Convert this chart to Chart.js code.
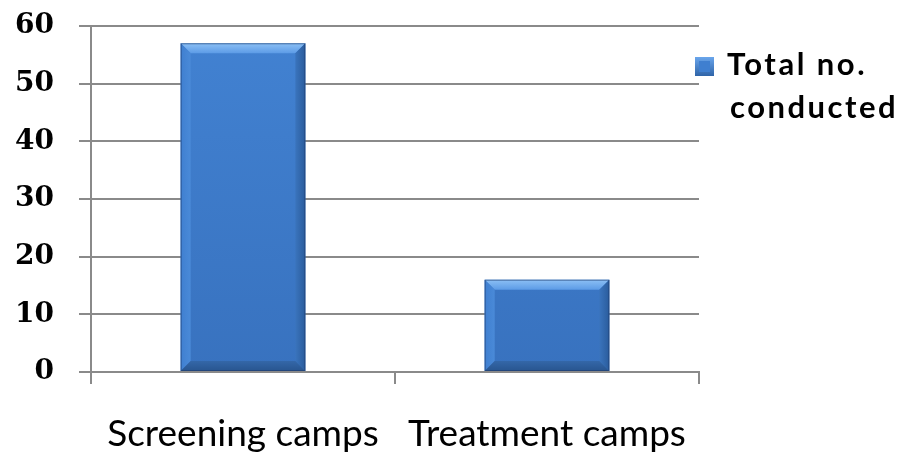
<!DOCTYPE html>
<html><head><meta charset="utf-8">
<script src="https://cdn.jsdelivr.net/npm/chart.js@4/dist/chart.umd.min.js"></script>
<style>html,body{margin:0;padding:0;background:#fff}#wrap{width:909px;height:461px}</style>
</head><body><div id="wrap"><canvas id="c" width="909" height="461"></canvas></div>
<script>
const categories = ["Screening camps", "Treatment camps"];
const seriesName = ["Total no.", "conducted"];
const totalConducted = [57, 16];
const yTicks = [0, 10, 20, 30, 40, 50, 60];

const bevelPlugin = {
  id: 'bevel',
  afterDatasetsDraw(chart) {
    const ctx = chart.ctx;
    chart.getDatasetMeta(0).data.forEach(el => {
      const w = el.width, l = el.x - w/2, r = el.x + w/2, t = el.y, b = el.base;
      const d = 10;
      ctx.save();
      let g = ctx.createLinearGradient(0, t, 0, t + d);
      g.addColorStop(0, '#8cc0f5'); g.addColorStop(1, '#5c9be6');
      ctx.fillStyle = g;
      ctx.beginPath(); ctx.moveTo(l, t); ctx.lineTo(r, t); ctx.lineTo(r - d, t + d); ctx.lineTo(l + d, t + d); ctx.closePath(); ctx.fill();
      g = ctx.createLinearGradient(l, 0, l + d, 0);
      g.addColorStop(0, '#3f7fd0'); g.addColorStop(1, '#4a8ad8');
      ctx.fillStyle = g;
      ctx.beginPath(); ctx.moveTo(l, t); ctx.lineTo(l + d, t + d); ctx.lineTo(l + d, b - d); ctx.lineTo(l, b); ctx.closePath(); ctx.fill();
      g = ctx.createLinearGradient(r - d, 0, r, 0);
      g.addColorStop(0, '#3a74bd'); g.addColorStop(1, '#2a5c9c');
      ctx.fillStyle = g;
      ctx.beginPath(); ctx.moveTo(r, t); ctx.lineTo(r - d, t + d); ctx.lineTo(r - d, b - d); ctx.lineTo(r, b); ctx.closePath(); ctx.fill();
      g = ctx.createLinearGradient(0, b - d, 0, b);
      g.addColorStop(0, '#3467a8'); g.addColorStop(1, '#28558f');
      ctx.fillStyle = g;
      ctx.beginPath(); ctx.moveTo(l, b); ctx.lineTo(l + d, b - d); ctx.lineTo(r - d, b - d); ctx.lineTo(r, b); ctx.closePath(); ctx.fill();
      ctx.strokeStyle = 'rgba(30,60,110,0.6)'; ctx.lineWidth = 1;
      ctx.strokeRect(l + 0.5, t + 0.5, w - 1, b - t - 1);
      ctx.restore();
    });
  }
};

const legendPlugin = {
  id: 'customLegend',
  afterDraw(chart) {
    const ctx = chart.ctx;
    const x = 695, y = 57, s = 19;
    ctx.save();
    let g = ctx.createLinearGradient(0, y, 0, y + s);
    g.addColorStop(0, '#6aa6ec'); g.addColorStop(1, '#2f64a8');
    ctx.fillStyle = g;
    ctx.fillRect(x, y, s, s);
    ctx.fillStyle = '#3f7fd0';
    ctx.fillRect(x + 4, y + 4, s - 8, s - 8);
    ctx.fillStyle = '#000';
    ctx.font = 'bold 31px Lato, "Open Sans", sans-serif';
    ctx.letterSpacing = '2.5px';
    ctx.textBaseline = 'alphabetic';
    ctx.fillText(chart.data.datasets[0].label[0], 727, 75);
    ctx.fillText(chart.data.datasets[0].label[1], 730, 118);
    ctx.restore();
  }
};

new Chart(document.getElementById('c'), {
  type: 'bar',
  data: {
    labels: categories,
    datasets: [{
      label: seriesName,
      data: totalConducted,
      backgroundColor: (c) => {
        const ch = c.chart; const ca = ch.chartArea;
        if (!ca) return '#3d7ccc';
        const g = ch.ctx.createLinearGradient(0, ca.top, 0, ca.bottom);
        g.addColorStop(0, '#4282d2'); g.addColorStop(1, '#3872bf');
        return g;
      },
      borderWidth: 0,
      categoryPercentage: 0.41,
      barPercentage: 1.0
    }]
  },
  options: {
    responsive: false,
    animation: false,
    devicePixelRatio: 1,
    layout: { padding: { top: 26, right: 210, left: 0, bottom: 0 } },
    plugins: { legend: { display: false }, tooltip: { enabled: false } },
    scales: {
      x: {
        offset: true,
        grid: { display: true, drawOnChartArea: false, offset: true, color: '#8a8a8a', lineWidth: 2, tickLength: 12, drawTicks: true },
        border: { display: true, color: '#8a8a8a', width: 2 },
        ticks: { color: '#000', padding: 28, font: { family: 'Lato, "Open Sans", sans-serif', size: 37 } },
        afterFit(s) { s.height = 461 - 372; s.paddingLeft = 0; s.paddingRight = 0; }
      },
      y: {
        min: 0, max: 60,
        afterBuildTicks(s) { s.ticks = yTicks.map(v => ({ value: v })); },
        grid: { color: '#8a8a8a', lineWidth: 2, tickLength: 12 },
        border: { display: true, color: '#8a8a8a', width: 2 },
        ticks: { color: '#000', padding: 25, font: { family: '"DejaVu Serif", serif', size: 28, weight: 'bold' } },
        afterFit(s) { s.width = 91; s.paddingTop = 0; s.paddingBottom = 0; }
      }
    }
  },
  plugins: [bevelPlugin, legendPlugin]
});
</script>
</body></html>
